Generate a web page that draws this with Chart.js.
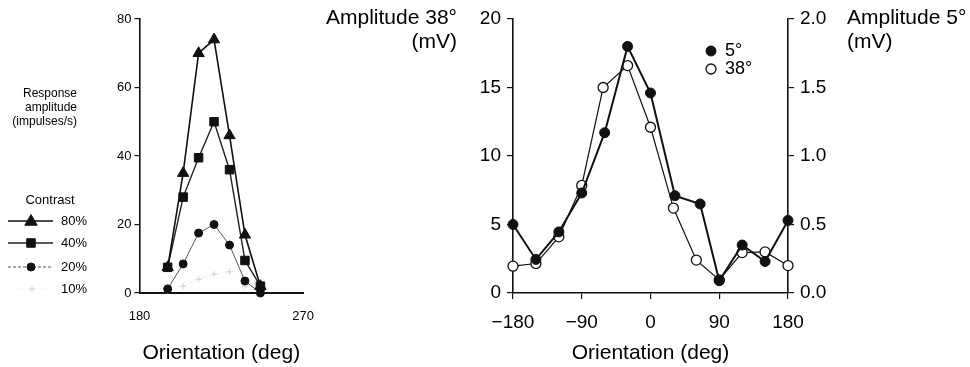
<!DOCTYPE html>
<html>
<head>
<meta charset="utf-8">
<script src="https://cdn.jsdelivr.net/npm/chart.js@4/dist/chart.umd.min.js"></script>
<style>
body{margin:0;background:#fff;width:970px;height:367px;overflow:hidden;position:relative}
.box{position:absolute;top:0;height:367px}
</style>
</head>
<body>
<div class="box" style="left:0;width:330px"><canvas id="c1"></canvas></div>
<div class="box" style="left:310px;width:660px"><canvas id="c2"></canvas></div>
<script>
// left panel: response vs orientation at 4 contrasts
var contrastAngles = [195.5, 204, 212.5, 221, 229.5, 238, 246.5];
var resp80 = [7.5, 35, 70, 74, 46, 17, 2];
var resp40 = [7.5, 28, 39.5, 50, 36, 9.5, 2];
var resp20 = [1.2, 8.5, 17.5, 20, 14, 3.5, 0];
var resp10 = [0.5, 2, 4, 5.5, 6.2, 2, 0];
var contrastLabels = ['80%', '40%', '20%', '10%'];
var leftXTicks = [180, 270];
var leftYTicks = [0, 20, 40, 60, 80];

// right panel: amplitude vs orientation
var orient5  = [-180, -150, -120, -90, -60, -30, 0, 32, 65, 90, 120, 150, 180];
var amp5     = [0.50, 0.245, 0.446, 0.73, 1.17, 1.80, 1.46, 0.71, 0.65, 0.09, 0.35, 0.23, 0.53]; // mV (right axis)
var orient38 = [-180, -150, -120, -90, -62, -30, 0, 30, 60, 90, 120, 150, 180];
var amp38    = [1.96, 2.15, 4.1, 7.85, 15.0, 16.6, 12.1, 6.2, 2.4, 0.95, 2.95, 3.0, 2.0]; // mV (left axis)
var ampLabels = ['5\u00b0', '38\u00b0'];
var rightXTicks = [-180, -90, 0, 90, 180];
var rightYTicks = [0, 5, 10, 15, 20];
var right1Ticks = [0, 0.5, 1.0, 1.5, 2.0];

var FF = '"Liberation Sans", Arial, sans-serif';
Chart.defaults.font.family = FF;
Chart.defaults.color = '#000';

function pts(xs, ys){ return xs.map(function(x, i){ return {x: x, y: ys[i]}; }); }
function fixTicks(list){ return function(s){ s.ticks = list.map(function(v){ return {value: v}; }); }; }

function marker(ctx, style, r, x, y){
    ctx.beginPath();
    if (style == 'triangle') {
        ctx.moveTo(x, y - r); ctx.lineTo(x + r * 0.95, y + r * 0.65); ctx.lineTo(x - r * 0.95, y + r * 0.65); ctx.closePath();
    } else if (style == 'rect') {
        var s = r * Math.SQRT1_2; ctx.rect(x - s, y - s, 2 * s, 2 * s);
    } else if (style == 'cross') {
        ctx.moveTo(x - r, y); ctx.lineTo(x + r, y); ctx.moveTo(x, y - r); ctx.lineTo(x, y + r);
        ctx.stroke(); return;
    } else {
        ctx.arc(x, y, r, 0, Math.PI * 2);
    }
    ctx.fill(); ctx.stroke();
}

// plain text bits placed on the canvas
var notesPlugin = {
    id: 'notes',
    afterDraw: function(chart, args, opts){
        var ctx = chart.ctx;
        ctx.save();
        ctx.fillStyle = '#000';
        ctx.textBaseline = 'middle';
        (opts.items || []).forEach(function(it){
            ctx.font = it.font;
            ctx.textAlign = it.align || 'left';
            ctx.fillText(it.text, it.x, it.y);
        });
        ctx.restore();
    }
};

// legend drawn from the datasets' own styles
var sampleLegend = {
    id: 'sampleLegend',
    afterDraw: function(chart, args, opts){
        var ctx = chart.ctx;
        (opts.entries || []).forEach(function(e, i){
            var ds = chart.data.datasets[i];
            ctx.save();
            if (e.x0 != null) {
                ctx.strokeStyle = ds.borderColor; ctx.lineWidth = ds.borderWidth;
                ctx.setLineDash(e.dash || []);
                ctx.beginPath(); ctx.moveTo(e.x0, e.y); ctx.lineTo(e.x1, e.y); ctx.stroke();
                ctx.setLineDash([]);
            }
            ctx.fillStyle = ds.pointBackgroundColor; ctx.strokeStyle = ds.pointBorderColor;
            ctx.lineWidth = ds.pointBorderWidth;
            marker(ctx, ds.pointStyle, e.r || ds.pointRadius, e.mx, e.y);
            ctx.fillStyle = '#000'; ctx.textBaseline = 'middle'; ctx.textAlign = 'left';
            ctx.font = opts.font;
            ctx.fillText(ds.label, e.tx, e.y);
            ctx.restore();
        });
    }
};

var axisCol = '#111';

new Chart(document.getElementById('c1'), {
    type: 'line',
    data: {
        datasets: [
            { label: contrastLabels[0], data: pts(contrastAngles, resp80), borderColor: '#111', borderWidth: 1.6,
              pointStyle: 'triangle', pointRadius: 6.5, pointBackgroundColor: '#111', pointBorderColor: '#111', pointBorderWidth: 1, clip: false },
            { label: contrastLabels[1], data: pts(contrastAngles, resp40), borderColor: '#222', borderWidth: 1.4,
              pointStyle: 'rect', pointRadius: 6, pointBackgroundColor: '#111', pointBorderColor: '#111', pointBorderWidth: 1, clip: false },
            { label: contrastLabels[2], data: pts(contrastAngles, resp20), borderColor: '#555', borderWidth: 1,
              pointStyle: 'circle', pointRadius: 4, pointBackgroundColor: '#111', pointBorderColor: '#111', pointBorderWidth: 1, clip: false },
            { label: contrastLabels[3], data: pts(contrastAngles, resp10), borderColor: '#ececec', borderWidth: 0.6,
              pointStyle: 'cross', pointRadius: 3, pointBackgroundColor: '#ccc', pointBorderColor: '#cfcfcf', pointBorderWidth: 1, clip: false }
        ]
    },
    options: {
        responsive: true, maintainAspectRatio: false, animation: false,
        layout: { padding: { left: 100, right: 23.5, top: 19, bottom: 0 } },
        plugins: {
            legend: { display: false }, tooltip: { enabled: false },
            notes: { items: [
                { text: 'Response', x: 77, y: 94, align: 'right', font: '12px ' + FF },
                { text: 'amplitude', x: 77, y: 108, align: 'right', font: '12px ' + FF },
                { text: '(impulses/s)', x: 77, y: 122, align: 'right', font: '12px ' + FF },
                { text: 'Contrast', x: 50, y: 200, align: 'center', font: '13px ' + FF }
            ] },
            sampleLegend: { font: '13px ' + FF, entries: [
                { y: 221, x0: 8, x1: 53, mx: 31, tx: 61 },
                { y: 243, x0: 8, x1: 53, mx: 31, tx: 61 },
                { y: 267, x0: 8, x1: 53, mx: 31, tx: 61, dash: [3, 2] },
                { y: 289, x0: 15, x1: 50, mx: 32, tx: 61 }
            ] }
        },
        scales: {
            x: { type: 'linear', min: 180, max: 270, afterBuildTicks: fixTicks(leftXTicks),
                 afterFit: function(s){ s.height = 74; },
                 grid: { drawOnChartArea: false, drawTicks: false },
                 border: { color: axisCol, width: 2 },
                 ticks: { padding: 16, font: { size: 13 } },
                 title: { display: true, text: 'Orientation (deg)', font: { size: 21 }, padding: { top: 0, bottom: 1 } } },
            y: { min: 0, max: 80, afterBuildTicks: fixTicks(leftYTicks),
                 afterFit: function(s){ s.width = 39.5; },
                 grid: { drawOnChartArea: false, tickLength: 5, color: axisCol, lineWidth: 1.2 },
                 border: { color: axisCol, width: 1.6 },
                 ticks: { padding: 3, font: { size: 13 } } }
        }
    },
    plugins: [notesPlugin, sampleLegend]
});

function minus(v){ return v < 0 ? '\u2212' + Math.abs(v) : '' + v; }

new Chart(document.getElementById('c2'), {
    type: 'line',
    data: {
        datasets: [
            { label: ampLabels[0], data: pts(orient5, amp5), yAxisID: 'y1', borderColor: '#111', borderWidth: 2,
              pointStyle: 'circle', pointRadius: 5, pointBackgroundColor: '#111', pointBorderColor: '#111', pointBorderWidth: 1, clip: false },
            { label: ampLabels[1], data: pts(orient38, amp38), yAxisID: 'y', borderColor: '#111', borderWidth: 1.2,
              pointStyle: 'circle', pointRadius: 5, pointBackgroundColor: '#fff', pointBorderColor: '#111', pointBorderWidth: 1.3, clip: false }
        ]
    },
    options: {
        responsive: true, maintainAspectRatio: false, animation: false,
        layout: { padding: { left: 158, right: 137, top: 19, bottom: 0 } },
        plugins: {
            legend: { display: false }, tooltip: { enabled: false },
            notes: { items: [
                { text: 'Amplitude 38\u00b0', x: 147, y: 18, align: 'right', font: '21px ' + FF },
                { text: '(mV)', x: 147, y: 42, align: 'right', font: '21px ' + FF },
                { text: 'Amplitude 5\u00b0', x: 537, y: 18, align: 'left', font: '21px ' + FF },
                { text: '(mV)', x: 537, y: 42, align: 'left', font: '21px ' + FF }
            ] },
            sampleLegend: { font: '18px ' + FF, entries: [
                { y: 51, mx: 401, tx: 415, r: 5 },
                { y: 69, mx: 401, tx: 415, r: 5 }
            ] }
        },
        scales: {
            x: { type: 'linear', min: -180, max: 180, afterBuildTicks: fixTicks(rightXTicks),
                 afterFit: function(s){ s.height = 74; },
                 grid: { drawOnChartArea: false, tickLength: 6, color: axisCol, lineWidth: 1.2 },
                 border: { color: axisCol, width: 1.6 },
                 ticks: { padding: 12, font: { size: 19 }, callback: minus },
                 title: { display: true, text: 'Orientation (deg)', font: { size: 21 }, padding: { top: 0, bottom: 1 } } },
            y: { position: 'left', min: 0, max: 20, afterBuildTicks: fixTicks(rightYTicks),
                 afterFit: function(s){ s.width = 45; },
                 grid: { drawOnChartArea: false, tickLength: 6, color: axisCol, lineWidth: 1.2 },
                 border: { color: axisCol, width: 1.6 },
                 ticks: { padding: 6, font: { size: 19 } } },
            y1: { position: 'right', min: 0, max: 2, afterBuildTicks: fixTicks(right1Ticks),
                 afterFit: function(s){ s.width = 45; },
                 grid: { drawOnChartArea: false, tickLength: 6, color: axisCol, lineWidth: 1.2 },
                 border: { color: axisCol, width: 1.6 },
                 ticks: { padding: 6, font: { size: 19 }, callback: function(v){ return v.toFixed(1); } } }
        }
    },
    plugins: [notesPlugin, sampleLegend]
});
</script>
</body>
</html>
